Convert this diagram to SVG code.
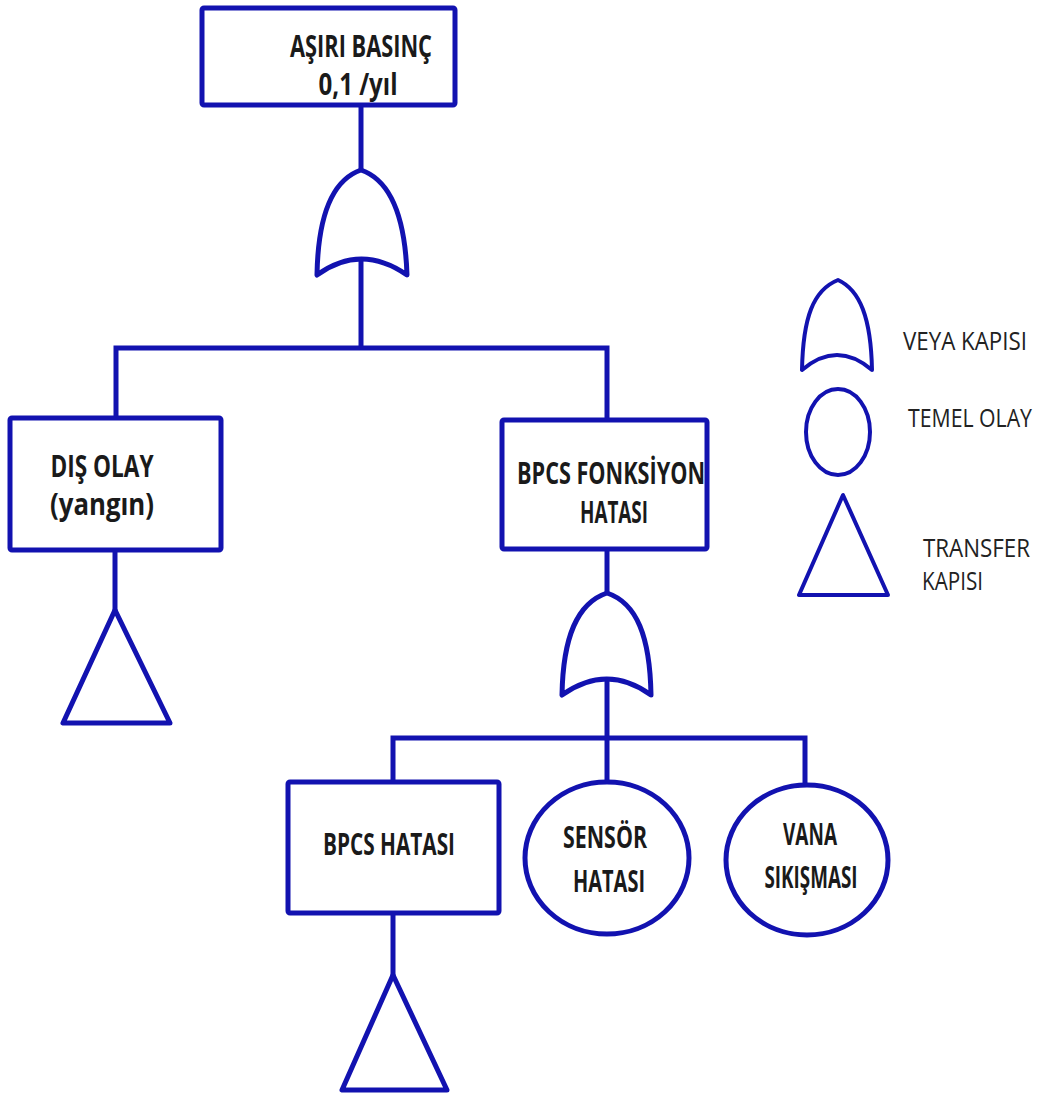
<svg xmlns="http://www.w3.org/2000/svg" width="1043" height="1097" viewBox="0 0 1043 1097">
<style>
.bg{fill:#ffffff}
.box{fill:#ffffff;stroke:#1212b0;stroke-width:5}
.gate{fill:#ffffff;stroke:#1212b0;stroke-width:5;stroke-linejoin:round}
.lg{fill:#ffffff;stroke:#1212b0;stroke-width:4;stroke-linejoin:round}
.line{fill:none;stroke:#1212b0;stroke-width:5}
.t{font-family:"Open Sans","Liberation Sans",sans-serif;font-weight:700;font-size:30px;fill:#1a1a1a;text-anchor:middle}
.l{font-family:"Open Sans","Liberation Sans",sans-serif;font-weight:400;font-size:21.5px;fill:#222222;text-anchor:start}
</style>
<rect class="bg" x="0" y="0" width="1043" height="1097"/>

<g id="connectors">
<line class="line" x1="361" y1="105" x2="361" y2="172"/>
<line class="line" x1="361" y1="259" x2="361" y2="348"/>
<path class="line" d="M116,418 V348 H607 V420"/>
<line class="line" x1="115" y1="550" x2="115" y2="612"/>
<line class="line" x1="607" y1="549" x2="607" y2="595"/>
<line class="line" x1="607" y1="679" x2="607" y2="782"/>
<path class="line" d="M393,782 V738 H805 V785"/>
<line class="line" x1="393" y1="913" x2="393" y2="977"/>
</g>

<g id="top-event">
<rect class="box" x="202" y="8" width="253" height="97" rx="2"/>
<text class="t" x="361" y="57" textLength="142" lengthAdjust="spacingAndGlyphs">AŞIRI BASINÇ</text>
<text class="t" x="358" y="95" textLength="79" lengthAdjust="spacingAndGlyphs">0,1 /yıl</text>
</g>

<g id="or-gate-1">
<path class="gate" d="M317,275 C318,215 332,180 361,170 C390,180 405,215 407,275 Q361,243 317,275 Z"/>
</g>

<g id="dis-olay">
<rect class="box" x="10" y="418" width="211" height="132" rx="2"/>
<text class="t" x="102" y="477" textLength="103" lengthAdjust="spacingAndGlyphs">DIŞ OLAY</text>
<text class="t" x="102" y="515" textLength="104" lengthAdjust="spacingAndGlyphs">(yangın)</text>
</g>

<g id="transfer-1">
<polygon class="gate" points="115,610 63,723 170,723"/>
</g>

<g id="bpcs-fonksiyon">
<rect class="box" x="502" y="420" width="205" height="129" rx="2"/>
<text class="t" x="611" y="484" textLength="188" lengthAdjust="spacingAndGlyphs">BPCS FONKSİYON</text>
<text class="t" x="614" y="523" textLength="68" lengthAdjust="spacingAndGlyphs">HATASI</text>
</g>

<g id="or-gate-2">
<path class="gate" d="M562,695 C563,637 577,603 607,593 C637,603 650,637 651,695 Q607,663 562,695 Z"/>
</g>

<g id="bpcs-hatasi">
<rect class="box" x="288" y="782" width="211" height="131" rx="2"/>
<text class="t" x="389" y="855" textLength="132" lengthAdjust="spacingAndGlyphs">BPCS HATASI</text>
</g>

<g id="transfer-2">
<polygon class="gate" points="393,975 342,1090 447,1090"/>
</g>

<g id="sensor-hatasi">
<ellipse class="box" cx="607" cy="858" rx="82" ry="76"/>
<text class="t" x="605" y="848" textLength="84" lengthAdjust="spacingAndGlyphs">SENSÖR</text>
<text class="t" x="609" y="892" textLength="72" lengthAdjust="spacingAndGlyphs">HATASI</text>
</g>

<g id="vana-sikismasi">
<ellipse class="box" cx="807" cy="860" rx="81" ry="75"/>
<text class="t" x="810" y="845" textLength="54" lengthAdjust="spacingAndGlyphs">VANA</text>
<text class="t" x="811" y="888" textLength="93" lengthAdjust="spacingAndGlyphs">SIKIŞMASI</text>
</g>

<g id="legend">
<path class="lg" d="M802,370 C803,318 813,290 838,280 C860,290 871,318 872,370 Q837,340 802,370 Z"/>
<text class="l" transform="translate(903,350) scale(1,1.2)" textLength="124" lengthAdjust="spacingAndGlyphs">VEYA KAPISI</text>
<ellipse class="lg" cx="838" cy="432" rx="32" ry="43"/>
<text class="l" transform="translate(908,427) scale(1,1.2)" textLength="124" lengthAdjust="spacingAndGlyphs">TEMEL OLAY</text>
<polygon class="lg" points="843,495 799,595 888,595"/>
<text class="l" transform="translate(923,557) scale(1,1.2)" textLength="107" lengthAdjust="spacingAndGlyphs">TRANSFER</text>
<text class="l" transform="translate(922,590) scale(1,1.2)" textLength="61" lengthAdjust="spacingAndGlyphs">KAPISI</text>
</g>
</svg>
